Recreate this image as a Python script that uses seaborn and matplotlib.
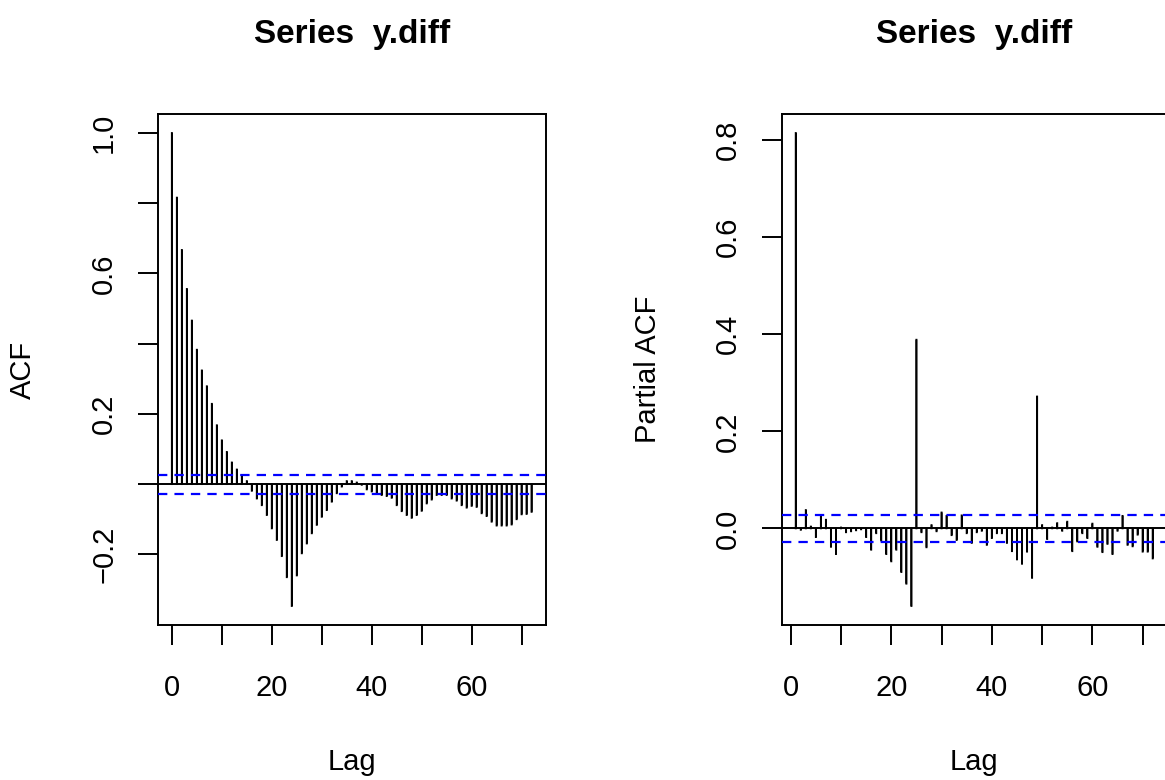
import numpy as np
import pandas as pd
import matplotlib
matplotlib.use("Agg")
import matplotlib.pyplot as plt
import seaborn as sns

# ---------------- data ----------------
acf_lags = list(range(0, 73))
acf_vals = [1.000, 0.816, 0.667, 0.556, 0.466, 0.383, 0.324, 0.279, 0.229, 0.168,
            0.125, 0.092, 0.062, 0.042, 0.026, 0.009, -0.019, -0.041, -0.060, -0.088,
            -0.126, -0.159, -0.205, -0.265, -0.347, -0.260, -0.197, -0.169, -0.140, -0.116,
            -0.093, -0.074, -0.050, -0.026, -0.007, 0.009, 0.009, 0.005, -0.002, -0.015,
            -0.021, -0.027, -0.031, -0.034, -0.039, -0.060, -0.077, -0.088, -0.096, -0.088,
            -0.076, -0.055, -0.044, -0.031, -0.031, -0.031, -0.041, -0.047, -0.060, -0.067,
            -0.062, -0.065, -0.083, -0.091, -0.107, -0.118, -0.118, -0.118, -0.115, -0.100,
            -0.086, -0.085, -0.079]

pacf_lags = list(range(1, 73))
pacf_vals = [0.815, -0.003, 0.038, 0.004, -0.018, 0.026, 0.018, -0.038, -0.053, 0.002,
             -0.008, -0.006, -0.004, -0.002, -0.018, -0.044, -0.010, -0.025, -0.053, -0.068,
             -0.044, -0.090, -0.114, -0.160, 0.389, -0.008, -0.039, 0.007, -0.006, 0.033,
             0.026, -0.014, -0.024, 0.027, -0.010, -0.030, -0.008, -0.005, -0.034, -0.020,
             -0.010, -0.010, -0.030, -0.047, -0.064, -0.073, -0.048, -0.102, 0.272, 0.007,
             -0.022, 0.002, 0.011, -0.005, 0.014, -0.047, -0.027, -0.010, -0.020, 0.010,
             -0.038, -0.049, -0.032, -0.053, -0.005, 0.026, -0.034, -0.037, -0.013, -0.048,
             -0.048, -0.062]

conf_limit = 0.0275

x_ticks = [0, 10, 20, 30, 40, 50, 60, 70]
x_tick_labels = ["0", "", "20", "", "40", "", "60", ""]
acf_y_ticks = [-0.2, 0.0, 0.2, 0.4, 0.6, 0.8, 1.0]
acf_y_tick_labels = ["\u22120.2", "", "0.2", "", "0.6", "", "1.0"]
pacf_y_ticks = [0.0, 0.2, 0.4, 0.6, 0.8]
pacf_y_tick_labels = ["0.0", "0.2", "0.4", "0.6", "0.8"]

title_text = "Series  y.diff"
x_label = "Lag"
acf_label = "ACF"
pacf_label = "Partial ACF"

# ---------------- style ----------------
sns.set_theme(style="ticks")
plt.rcParams['font.family'] = ['Liberation Sans', 'DejaVu Sans']
plt.rcParams.update({
    'text.color': 'black', 'axes.labelcolor': 'black',
    'xtick.color': 'black', 'ytick.color': 'black',
    'axes.edgecolor': 'black', 'axes.linewidth': 1.4,
})

W, H = 1165, 780
fig = plt.figure(figsize=(W / 100, H / 100), dpi=100)
fig.patch.set_facecolor('white')


def rect(x0, x1, ytop, ybot):
    return [x0 / W, 1 - ybot / H, (x1 - x0) / W, (ybot - ytop) / H]


FS = 21
TFS = 24
LW = 1.4


def panel(ax, lags, vals, yticks, ylabels):
    df = pd.DataFrame({"lag": lags, "value": vals})
    sns.barplot(data=df, x="lag", y="value", native_scale=True, width=0.06,
                color="black", saturation=1, errorbar=None,
                edgecolor="black", linewidth=1.2, ax=ax)
    for p in ax.patches:
        p.set_snap(False)
        p.set_antialiased(True)
    ax.axhline(0, color='black', lw=LW, zorder=3)
    for c in (conf_limit, -conf_limit):
        ax.axhline(c, color='#0000FF', lw=1.6, linestyle=(0, (4.2, 3.2)), zorder=4)
    lo, hi = min(lags), max(lags)
    r = hi - lo
    ax.set_xlim(lo - 0.04 * r, hi + 0.04 * r)
    vmin = min(min(vals), -conf_limit)
    vmax = max(max(vals), conf_limit)
    rr = vmax - vmin
    ax.set_ylim(vmin - 0.04 * rr, vmax + 0.04 * rr)
    ax.set_xticks(x_ticks)
    ax.set_xticklabels(x_tick_labels)
    ax.set_yticks(yticks)
    ax.set_yticklabels(ylabels)
    ax.set_xlabel("")
    ax.set_ylabel("")
    ax.tick_params(axis='both', direction='out', length=14.4, width=LW,
                   labelsize=FS, color='black')
    ax.tick_params(axis='x', pad=21)
    ax.tick_params(axis='y', pad=14)
    for lab in ax.get_yticklabels():
        lab.set_rotation(90)
        lab.set_va('center')
        lab.set_ha('right')
    for s in ax.spines.values():
        s.set_visible(True)
        s.set_linewidth(LW)
        s.set_color('black')
    ax.grid(False)
    ax.set_facecolor('white')


ax1 = fig.add_axes(rect(157.5, 546, 114, 625))
panel(ax1, acf_lags, acf_vals, acf_y_ticks, acf_y_tick_labels)
ax2 = fig.add_axes(rect(781.5, 1167, 114, 625))
panel(ax2, pacf_lags, pacf_vals, pacf_y_ticks, pacf_y_tick_labels)

for cx in (352, 974):
    fig.text(cx / W, 1 - 43 / H, title_text, ha='center', va='baseline',
             fontsize=TFS, fontweight='bold')
    fig.text(cx / W, 1 - 770 / H, x_label, ha='center', va='baseline', fontsize=FS)

fig.text(22.5 / W, 1 - 369.5 / H, acf_label, rotation=90, ha='center', va='center', fontsize=FS)
fig.text(647.5 / W, 1 - 369.5 / H, pacf_label, rotation=90, ha='center', va='center', fontsize=FS)

fig.savefig("out.png", dpi=100, facecolor='white')
